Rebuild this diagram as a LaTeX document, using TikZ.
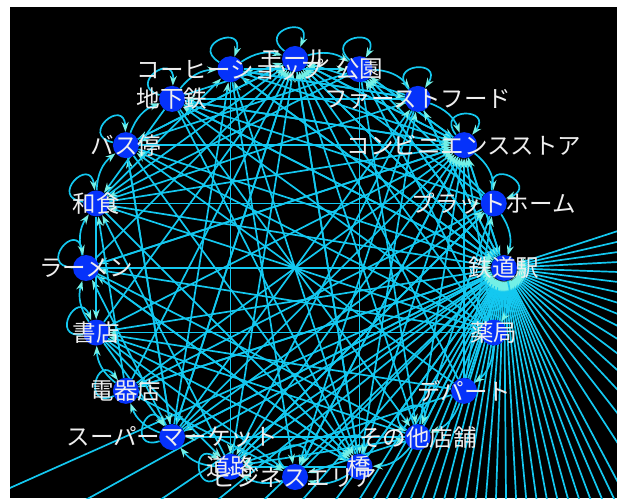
\documentclass[tikz,border=0pt]{standalone}
\usepackage{fontspec}
\newfontfamily\jp{Noto Sans CJK JP}
\usetikzlibrary{arrows.meta}
\definecolor{edgec}{RGB}{20,200,240}
\definecolor{tipc}{RGB}{115,240,230}
\definecolor{nodec}{RGB}{5,50,250}
\definecolor{labc}{RGB}{238,238,238}
\begin{document}
\begin{tikzpicture}[x=1pt,y=1pt,
  vtxshape/.style={circle,minimum size=26pt,inner sep=0pt},
  lab/.style={text=labc,font=\jp\fontsize{23.5}{25}\selectfont,inner sep=0pt,anchor=center},
  edge/.style={draw=edgec,line width=1.7pt,-{Stealth[length=10pt,width=7pt,color=tipc]}},
  fan/.style={draw=edgec,line width=1.7pt,{Stealth[length=10pt,width=7pt,color=tipc]}-}
]
\useasboundingbox (0,0) rectangle (617,498);
\fill[white] (0,0) rectangle (617,498);
\fill[black] (10,0) rectangle (617,491);
% node positions
\foreach \i in {0,...,19}{
  \pgfmathsetmacro\ang{90-18*\i}
  \path (295,230) ++(\ang:209) node[vtxshape] (n\i) {};
}
\begin{scope}
\clip (10,0) rectangle (617,491);
% fan of edges into the station from nodes outside the frame
\foreach \a in {-156,-151,...,-126}{\draw[fan] (n5) -- ++(\a:900);}
\foreach \a in {-122,-119.5,...,-61}{\draw[fan] (n5) -- ++(\a:900);}
\foreach \a in {-57,-52,...,20}{\draw[fan] (n5) -- ++(\a:900);}
% chords
\foreach \i in {0,...,19}{
  \foreach \j in {0,...,19}{
    \pgfmathtruncatemacro\ok{ifthenelse(\i==\j,0,ifthenelse(abs(\i-\j)==1||abs(\i-\j)==19,0,ifthenelse((\j==3||\j==5||\j==0)&&abs(\i-\j)!=10,1,ifthenelse(\j==6||\j==7,0,ifthenelse(mod(\i*37+\j*91+\i*\j*13,17)<5,1,0)))))}
    \ifnum\ok=1 \draw[edge] (n\i) -- (n\j); \fi
  }
}
\draw[edge] (n15) -- (n5);
% neighbour arcs
\foreach \i in {0,...,19}{
  \pgfmathtruncatemacro\k{mod(\i+1,20)}
  \draw[edge] (n\i) to[bend left=25] (n\k);
}
% self loops
\foreach \i/\t in {0/105,1/100,2/95,3/90,4/60,8/110,9/115,10/100,11/185,12/160,13/165,14/150,15/140,16/135,17/130,18/125,19/110}{
  \pgfmathsetmacro\ao{\t+38}
  \pgfmathsetmacro\ai{\t-38}
  \draw[edge] (n\i) to[out=\ao,in=\ai,looseness=5.5] (n\i);
}
\end{scope}
% node discs
\foreach \i in {0,...,19}{\fill[nodec] (n\i) circle (13pt);}
% labels
\foreach \i/\nm in {0/モール,1/公園,2/ファーストフード,3/コンビニエンスストア,4/プラットホーム,5/鉄道駅,6/薬局,7/デパート,8/その他店舗,9/橋,10/ビジネスエリア,11/道路,12/スーパーマーケット,13/電器店,14/書店,15/ラーメン,16/和食,17/バス停,18/地下鉄,19/コーヒーショップ}{
  \node[lab] (t\i) at (n\i) {\nm};
}
\end{tikzpicture}
\end{document}
